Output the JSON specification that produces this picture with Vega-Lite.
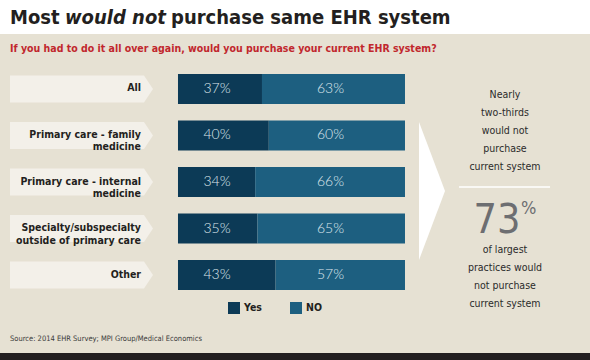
{
  "$schema": "https://vega.github.io/schema/vega-lite/v6.json",
  "width": 590,
  "height": 360,
  "autosize": {"type": "none"},
  "padding": 0,
  "background": "#ffffff",
  "config": {"view": {"stroke": null}, "font": "DejaVu Sans Condensed, Roboto"},
  "datasets": {
    "survey": [
      {"category": "All", "Yes": 0.37, "NO": 0.63},
      {"category": "Primary care - family\nmedicine", "Yes": 0.40, "NO": 0.60},
      {"category": "Primary care - internal\nmedicine", "Yes": 0.34, "NO": 0.66},
      {"category": "Specialty/subspecialty\noutside of primary care", "Yes": 0.35, "NO": 0.65},
      {"category": "Other", "Yes": 0.43, "NO": 0.57}
    ]
  },
  "layer": [
    {
      "data": {"values": [{}]},
      "layer": [
        {
          "mark": {"type": "rect", "color": "#e6e1d3"},
          "encoding": {
            "x": {"datum": -0.7841, "type": "quantitative", "scale": {"domain": [-0.7841, 1.815], "nice": false, "zero": false}, "axis": null},
            "x2": {"datum": 1.815},
            "y": {"datum": 34, "type": "quantitative", "scale": {"domain": [0, 360], "reverse": true, "nice": false, "zero": false}, "axis": null},
            "y2": {"datum": 353}
          }
        },
        {
          "mark": {"type": "rect", "color": "#231f20"},
          "encoding": {
            "x": {"datum": -0.7841, "type": "quantitative"},
            "x2": {"datum": 1.815},
            "y": {"datum": 353, "type": "quantitative"},
            "y2": {"datum": 360}
          }
        },
        {
          "mark": {"type": "text", "text": "Most", "align": "left", "baseline": "alphabetic", "fontSize": 20, "fontWeight": "bold", "color": "#231f20"},
          "encoding": {"x": {"datum": -0.740, "type": "quantitative"}, "y": {"datum": 24, "type": "quantitative"}}
        },
        {
          "mark": {"type": "text", "text": "would not", "align": "left", "baseline": "alphabetic", "fontSize": 20, "fontWeight": "bold", "fontStyle": "italic", "color": "#231f20"},
          "encoding": {"x": {"datum": -0.4978, "type": "quantitative"}, "y": {"datum": 24, "type": "quantitative"}}
        },
        {
          "mark": {"type": "text", "text": "purchase same EHR system", "align": "left", "baseline": "alphabetic", "fontSize": 20, "fontWeight": "bold", "color": "#231f20"},
          "encoding": {"x": {"datum": -0.0308, "type": "quantitative"}, "y": {"datum": 24, "type": "quantitative"}}
        },
        {
          "mark": {"type": "text", "text": "If you had to do it all over again, would you purchase your current EHR system?", "align": "left", "baseline": "alphabetic", "fontSize": 10.5, "fontWeight": "bold", "color": "#c1272d"},
          "encoding": {"x": {"datum": -0.740, "type": "quantitative"}, "y": {"datum": 52, "type": "quantitative"}}
        },
        {
          "mark": {"type": "text", "text": "Source: 2014 EHR Survey; MPI Group/Medical Economics", "align": "left", "baseline": "alphabetic", "fontSize": 7.5, "color": "#3a3a3a"},
          "encoding": {"x": {"datum": -0.740, "type": "quantitative"}, "y": {"datum": 341, "type": "quantitative"}}
        },
        {
          "mark": {"type": "point", "shape": "M0,-1L0.377,0L0,1Z", "size": 19044, "filled": true, "color": "#ffffff", "opacity": 1, "strokeWidth": 0},
          "encoding": {"x": {"datum": 1.0617, "type": "quantitative"}, "y": {"datum": 191, "type": "quantitative"}}
        },
        {
          "mark": {"type": "text", "text": "Nearly\ntwo-thirds\nwould not\npurchase\ncurrent system", "lineBreak": "\n", "lineHeight": 18, "align": "center", "baseline": "middle", "fontSize": 10.5, "color": "#2b2b2b"},
          "encoding": {"x": {"datum": 1.4405, "type": "quantitative"}, "y": {"datum": 95, "type": "quantitative"}}
        },
        {
          "mark": {"type": "rule", "color": "#ffffff", "strokeWidth": 1.5},
          "encoding": {"x": {"datum": 1.238, "type": "quantitative"}, "x2": {"datum": 1.639}, "y": {"datum": 187, "type": "quantitative"}}
        },
        {
          "mark": {"type": "text", "text": "73", "align": "center", "baseline": "alphabetic", "fontSize": 41, "color": "#6d6e71"},
          "encoding": {"x": {"datum": 1.405, "type": "quantitative"}, "y": {"datum": 233, "type": "quantitative"}}
        },
        {
          "mark": {"type": "text", "text": "%", "align": "left", "baseline": "alphabetic", "fontSize": 18, "color": "#6d6e71"},
          "encoding": {"x": {"datum": 1.5110, "type": "quantitative"}, "y": {"datum": 214, "type": "quantitative"}}
        },
        {
          "mark": {"type": "text", "text": "of largest\npractices would\nnot purchase\ncurrent system", "lineBreak": "\n", "lineHeight": 18, "align": "center", "baseline": "middle", "fontSize": 10.5, "color": "#2b2b2b"},
          "encoding": {"x": {"datum": 1.4405, "type": "quantitative"}, "y": {"datum": 250, "type": "quantitative"}}
        }
      ]
    },
    {
      "data": {"name": "survey"},
      "layer": [
        {
          "mark": {"type": "bar", "color": "#f3f0e9", "height": {"band": 0.9}},
          "encoding": {
            "y": {"field": "category", "type": "nominal", "sort": null, "axis": null, "scale": {"range": [74, 290], "paddingInner": 0.355, "paddingOuter": 0}},
            "x": {"datum": -0.740, "type": "quantitative", "scale": {"domain": [-0.7841, 1.815], "nice": false, "zero": false}, "axis": null},
            "x2": {"datum": -0.1498}
          }
        },
        {
          "mark": {"type": "point", "shape": "M0,-1L0.667,0L0,1Z", "size": 729, "filled": true, "color": "#f3f0e9", "opacity": 1, "strokeWidth": 0},
          "encoding": {
            "y": {"field": "category", "type": "nominal", "sort": null},
            "x": {"datum": -0.1498, "type": "quantitative"}
          }
        },
        {
          "mark": {"type": "text", "align": "right", "baseline": "middle", "lineBreak": "\n", "lineHeight": 12.5, "fontSize": 10.5, "fontWeight": "bold", "color": "#231f20", "dy": -0.5},
          "encoding": {
            "y": {"field": "category", "type": "nominal", "sort": null},
            "x": {"datum": -0.163, "type": "quantitative"},
            "text": {"field": "category"}
          }
        },
        {
          "transform": [{"fold": ["Yes", "NO"], "as": ["answer", "pct"]}],
          "mark": {"type": "bar"},
          "encoding": {
            "y": {"field": "category", "type": "nominal", "sort": null},
            "x": {"field": "pct", "type": "quantitative", "stack": "zero"},
            "color": {
              "field": "answer", "type": "nominal",
              "scale": {"domain": ["Yes", "NO"], "range": ["#0c3a56", "#1d5f80"]},
              "legend": {
                "orient": "none", "legendX": 228, "legendY": 302, "direction": "horizontal", "title": null,
                "symbolType": "square", "symbolSize": 144, "symbolStrokeWidth": 0, "symbolOpacity": 1,
                "labelFont": "DejaVu Sans Condensed, Roboto", "labelFontWeight": "bold", "labelFontSize": 10.5, "labelColor": "#231f20",
                "labelOffset": 4, "columnPadding": 28
              }
            },
            "order": {"field": "answer", "sort": "descending"}
          }
        },
        {
          "mark": {"type": "text", "align": "center", "baseline": "middle", "font": "Lato", "fontWeight": 300, "fontSize": 14, "color": "#dde6ec"},
          "encoding": {
            "y": {"field": "category", "type": "nominal", "sort": null},
            "x": {"datum": 0.1718, "type": "quantitative"},
            "text": {"field": "Yes", "type": "quantitative", "format": ".0%"}
          }
        },
        {
          "mark": {"type": "text", "align": "center", "baseline": "middle", "font": "Lato", "fontWeight": 300, "fontSize": 14, "color": "#dde6ec"},
          "encoding": {
            "y": {"field": "category", "type": "nominal", "sort": null},
            "x": {"datum": 0.6718, "type": "quantitative"},
            "text": {"field": "NO", "type": "quantitative", "format": ".0%"}
          }
        }
      ]
    }
  ],
  "resolve": {"scale": {"y": "independent"}}
}
